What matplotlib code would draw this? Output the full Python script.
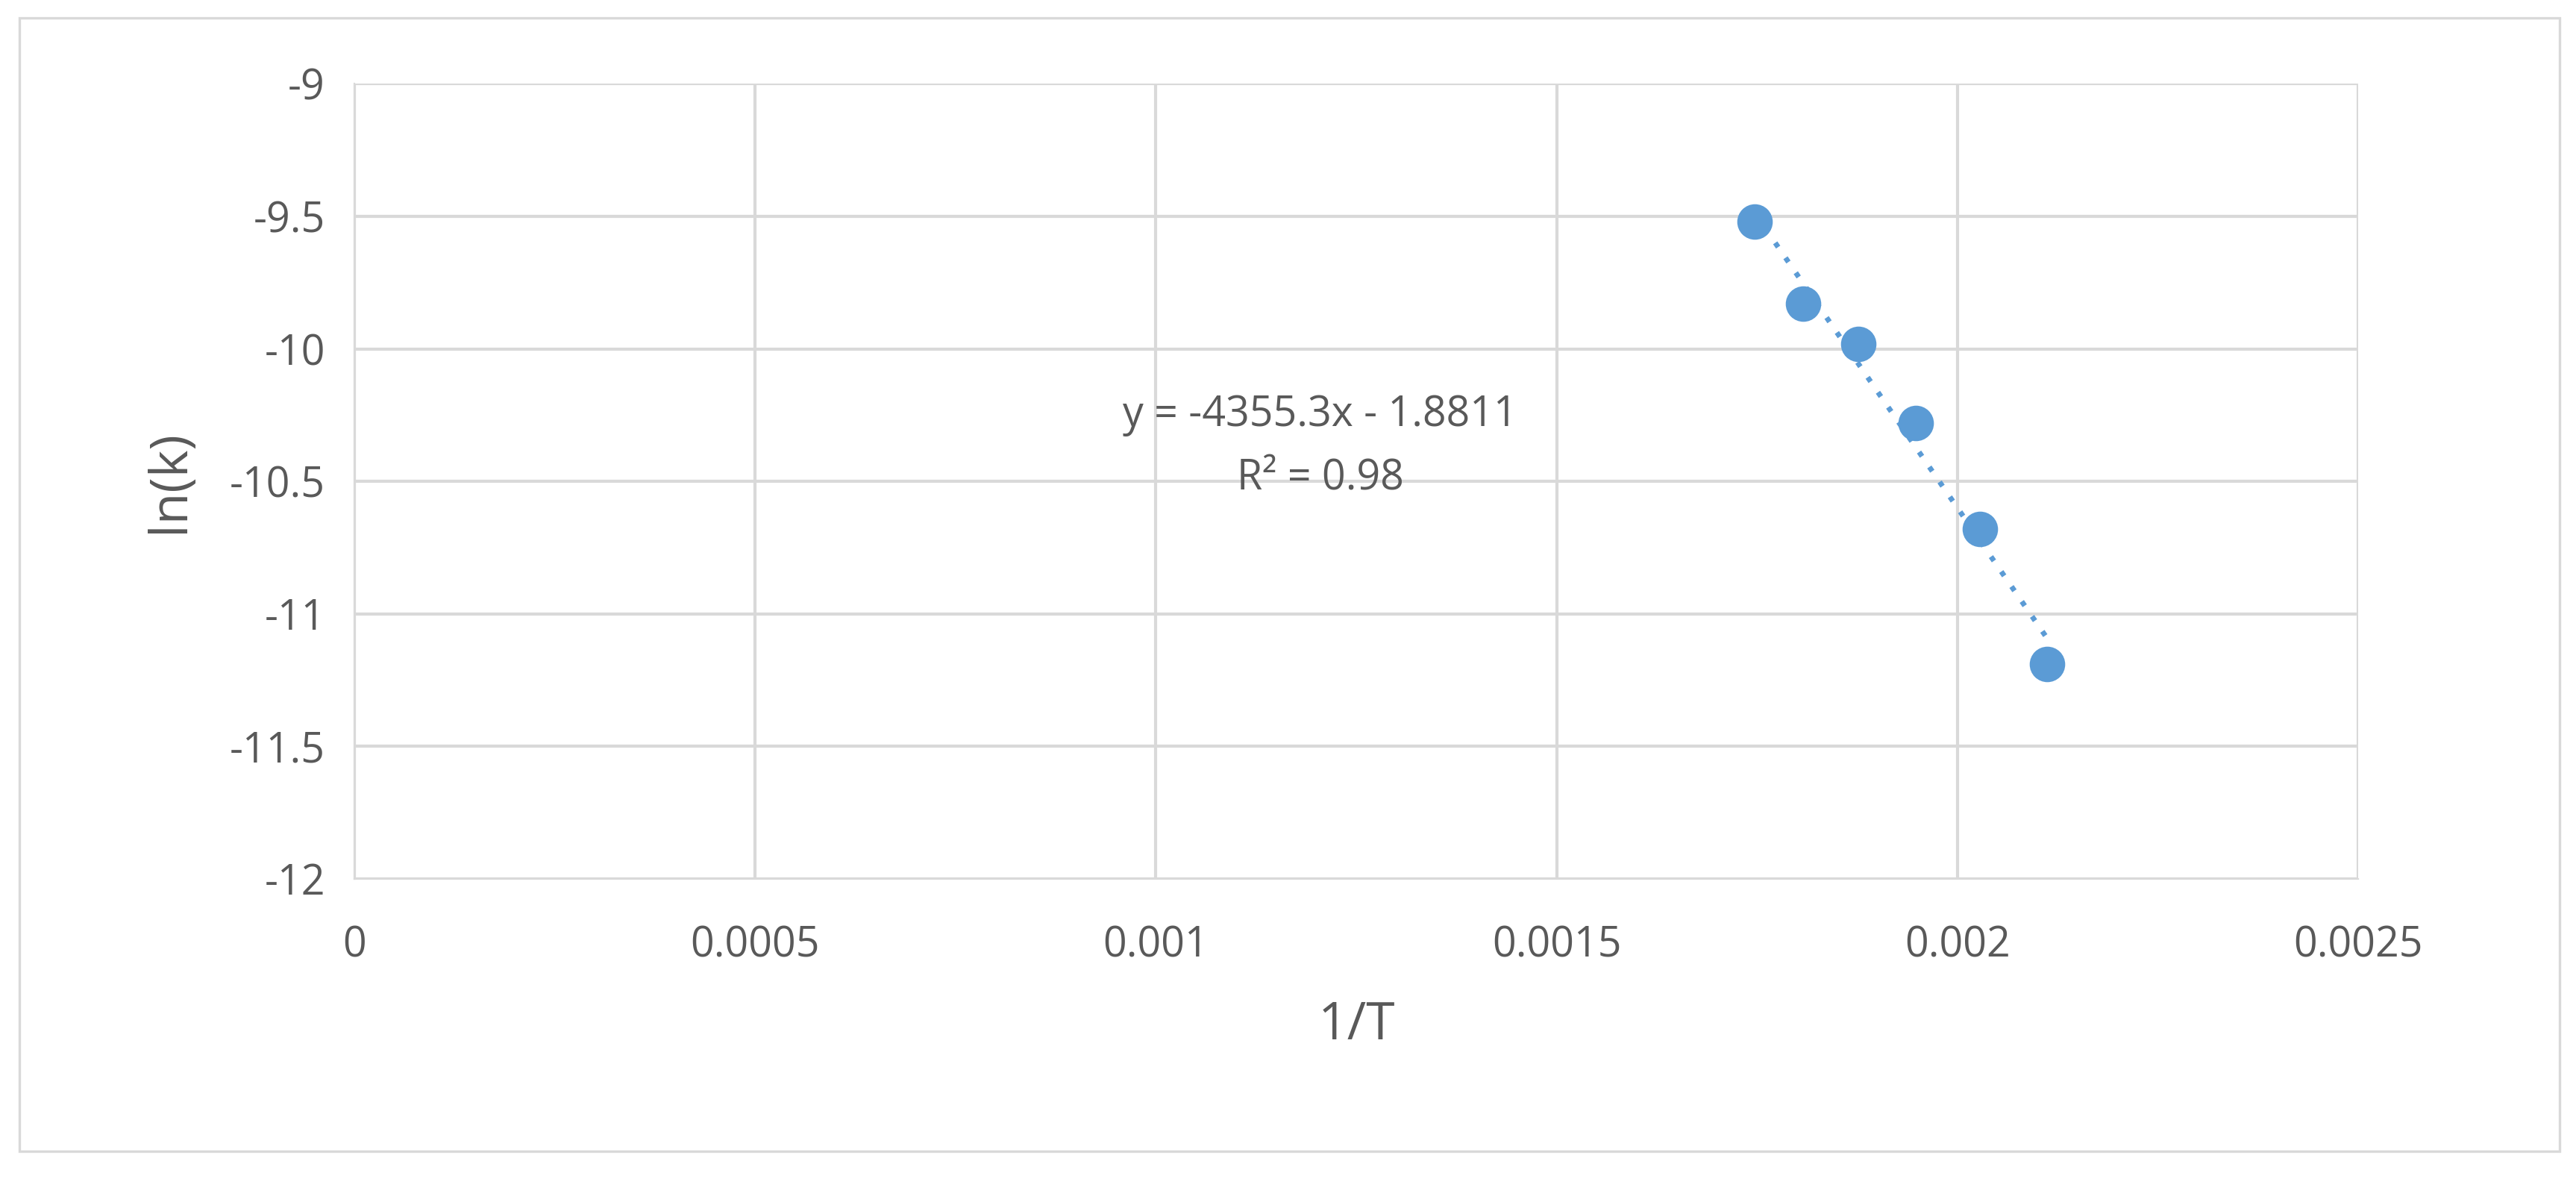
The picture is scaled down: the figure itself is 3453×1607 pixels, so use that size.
import numpy as np
import matplotlib
matplotlib.use("Agg")
import matplotlib.pyplot as plt
from matplotlib.patches import Rectangle

inv_T = [0.001747, 0.001807, 0.001876, 0.001948, 0.002028, 0.002112]
ln_k = [-9.52, -9.83, -9.98, -10.28, -10.68, -11.19]
x_ticks = [0, 0.0005, 0.001, 0.0015, 0.002, 0.0025]
x_labels = ["0", "0.0005", "0.001", "0.0015", "0.002", "0.0025"]
y_ticks = [-12, -11.5, -11, -10.5, -10, -9.5, -9]
y_labels = ["-12", "-11.5", "-11", "-10.5", "-10", "-9.5", "-9"]

plt.rcParams['font.family'] = ['Open Sans', 'DejaVu Sans']
txt = "#595959"
fig = plt.figure(figsize=(17.265, 8.035), dpi=200)
fig.patches.append(Rectangle((0.0075, 0.04), 0.986, 0.945, transform=fig.transFigure,
                             fill=False, edgecolor="#d9d9d9", linewidth=1.2))
ax = fig.add_axes([0.1375, 0.267, 0.778, 0.663])
ax.set_xlim(0, 0.0025)
ax.set_ylim(-12, -9)
ax.set_xticks(x_ticks, x_labels)
ax.set_yticks(y_ticks, y_labels)
ax.grid(True, color="#d9d9d9", linewidth=1.5)
ax.set_axisbelow(True)
for s in ax.spines.values():
    s.set_visible(False)
ax.spines["bottom"].set_visible(True); ax.spines["bottom"].set_color("#d9d9d9")
ax.spines["left"].set_visible(True); ax.spines["left"].set_color("#d9d9d9")
ax.tick_params(length=0, labelsize=20, labelcolor=txt)
ax.tick_params(axis="x", pad=22)
ax.tick_params(axis="y", pad=14)

m, b = np.polyfit(inv_T, ln_k, 1)
xs = np.array([min(inv_T), max(inv_T)])
ax.plot(xs, m * xs + b, linestyle=(0, (1, 2.5)), color="#5B9BD5", linewidth=2.5)
ax.scatter(inv_T, ln_k, s=260, color="#5B9BD5", zorder=3)

ax.text(0.001205, -10.25, "y = -4355.3x - 1.8811", ha="center", va="center", fontsize=20, color=txt)
ax.text(0.001205, -10.49, "R² = 0.98", ha="center", va="center", fontsize=20, color=txt)
ax.set_xlabel("1/T", fontsize=25, color=txt, labelpad=16)
ax.set_ylabel("ln(k)", fontsize=25, color=txt, labelpad=16)
fig.savefig("out.png", dpi=200, facecolor="white")
